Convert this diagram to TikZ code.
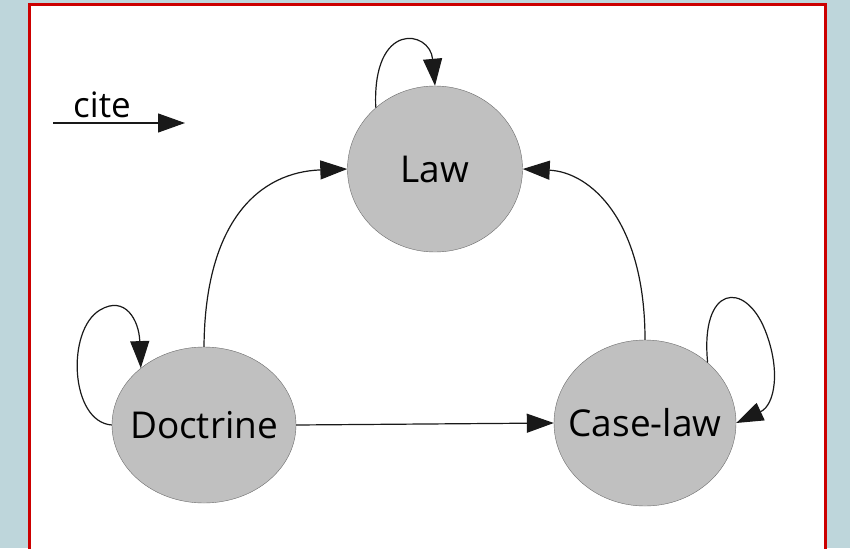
\documentclass[tikz,border=0pt]{standalone}
\usepackage{fontspec}
\setmainfont{Open Sans}
\usetikzlibrary{shapes.geometric,arrows.meta}
\definecolor{bgblue}{HTML}{BED6DB}
\definecolor{framered}{HTML}{CC0000}
\definecolor{nodegray}{HTML}{C0C0C0}

\begin{document}
\begin{tikzpicture}[x=1pt,y=-1pt,%
		   source/.style={ellipse,draw=gray!85!black,fill=nodegray,inner sep=0pt,font=\fontsize{37}{44}\selectfont},
		   cites/.style={-{Triangle[length=27pt,width=19pt]},line width=1.2pt,black!90}]

	% background and frame
	\useasboundingbox[fill=bgblue] (0,0) rectangle (850,548);
	\draw[framered,line width=3pt,fill=white] (29,5) rectangle (825,580);

	% the three sources
	\node[source,minimum width=175pt,minimum height=166pt] (law) at (435,169) {\makebox[0pt]{Law}};
	\node[source,minimum width=184pt,minimum height=156pt] (doc) at (204,425) {\makebox[0pt]{Doctrine}};
	\node[source,minimum width=182pt,minimum height=166pt] (case) at (645,423) {\makebox[0pt]{Case-law}};

	% legend
	\coordinate (cite-a) at (53,123);
	\coordinate (cite-b) at (185,123);
	\draw[cites] (cite-a) -- (cite-b);
	\node[anchor=base,font=\fontsize{35}{42}\selectfont] (cite) at (102,118) {cite};

	% citations between sources
	\draw[cites] (doc.north) .. controls (205,220) and (260,172) .. (law.west);
	\draw[cites] (case.north) .. controls (645,220) and (590,172) .. (law.east);
	\draw[cites] (doc.east) -- (case.west);

	% self citations
	\draw[cites] (law.134) .. controls (372,20) and (430,30) .. (law.north);
	\draw[cites] (doc.west) .. controls (70,422) and (66,330) .. (100,310)
		.. controls (125,295) and (139,320) .. (doc.138);
	\draw[cites] (case.44) .. controls (700,285) and (745,280) .. (765,330)
		.. controls (781,370) and (775,405) .. (case.east);
\end{tikzpicture}
\end{document}
